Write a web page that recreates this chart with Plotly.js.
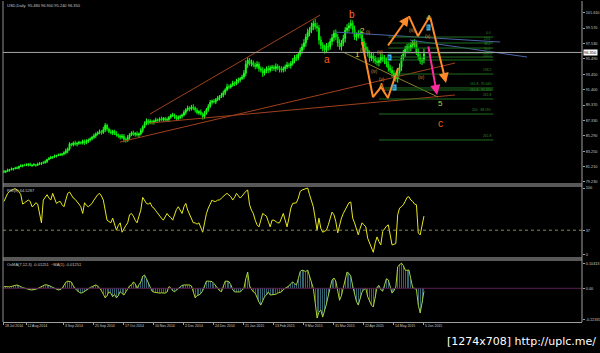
<!DOCTYPE html>
<html><head><meta charset="utf-8">
<script src="https://cdn.plot.ly/plotly-3.0.1.min.js"></script>
<style>html,body{margin:0;padding:0;background:#000;overflow:hidden}#chart{width:600px;height:353px}</style>
</head><body><div id="chart"></div>
<script>
// ---- data ----
const dateLabels = ["18 Jul 2014","12 Aug 2014","3 Sep 2014","25 Sep 2014","17 Oct 2014","10 Nov 2014","2 Dec 2014","24 Dec 2014","21 Jan 2015","13 Feb 2015","9 Mar 2015","31 Mar 2015","22 Apr 2015","14 May 2015","5 Jun 2015"];
const dateLabelBars = [0,12,32,48,64,80,96,112,128,144,160,176,192,208,224];
const firstOpen = 80.50;
const closes = [
80.55,80.62,80.75,80.82,80.90,80.95,81.00,81.05,81.25,81.32,81.40,81.38,81.45,81.55,81.38,81.42,
81.48,81.40,81.55,81.62,81.70,81.72,81.88,82.15,82.30,82.45,82.50,82.62,82.70,82.75,82.80,82.90,
83.05,83.30,83.55,84.25,84.10,84.35,84.20,84.30,84.45,84.35,84.60,84.40,84.55,84.75,84.90,85.10,
85.30,85.55,85.70,85.85,85.75,86.10,86.70,86.20,85.85,85.70,85.90,85.60,85.40,85.30,85.10,85.25,
84.85,84.70,85.10,85.45,85.70,85.50,85.60,85.40,85.55,86.00,86.50,86.90,87.30,87.05,87.20,87.10,
87.25,87.40,87.35,87.55,87.45,87.60,87.40,87.45,87.75,88.00,88.05,87.85,87.60,87.70,87.90,88.05,
88.40,88.75,89.00,88.85,89.10,89.00,88.70,88.35,88.50,88.20,87.85,88.30,88.80,89.20,89.75,89.90,
89.80,90.10,90.30,90.50,90.70,91.00,91.40,91.80,91.75,92.00,92.30,92.20,92.55,92.70,92.90,93.10,
93.60,94.80,95.30,94.90,95.00,94.70,94.50,94.80,94.20,94.00,93.60,93.90,94.20,94.00,94.30,94.40,
94.20,94.50,94.30,94.10,94.00,94.20,94.45,94.70,94.60,94.90,95.20,95.70,95.60,96.10,96.60,97.10,
97.60,98.40,99.00,99.30,99.80,100.20,99.80,99.60,98.00,97.30,96.90,96.70,97.20,97.10,97.80,98.30,
98.90,98.40,97.60,97.10,97.60,98.20,99.30,99.60,99.90,100.20,99.40,98.40,98.60,98.90,98.70,97.80,
97.10,96.70,96.20,95.60,95.90,95.50,95.20,95.00,95.30,95.70,95.60,95.20,94.80,94.30,94.00,93.60,
93.10,92.85,93.70,94.40,95.60,96.20,96.80,97.10,96.90,97.30,97.60,97.50,96.40,95.80,95.20,95.30,96.35];
// upper / lower wick lengths in tenths of a point
const upperWick = [
2,1,2,1,2,1,2,2,1,2,1,2,2,1,2,1, 2,1,2,2,1,2,2,1,2,2,1,2,1,2,2,1, 2,3,2,2,1,2,3,2,2,1,2,2,3,2,2,2,
3,2,2,3,2,4,3,2,2,3,2,2,3,2,2,3, 3,2,3,2,2,3,2,3,2,3,2,3,3,2,3,2, 2,3,2,2,3,2,2,3,2,2,3,2,2,3,2,2,
3,2,3,2,3,4,2,3,2,3,2,3,2,3,3,2, 3,2,3,2,3,3,2,4,3,2,3,2,3,3,2,3, 4,5,4,3,4,3,3,4,3,3,4,3,3,4,3,3,
3,4,3,3,4,3,3,4,3,3,4,3,4,3,4,4, 5,4,5,4,5,4,6,5,4,5,4,5,4,5,4,5, 4,5,4,5,4,5,4,5,4,5,4,5,4,4,5,4,
4,5,4,4,5,4,4,5,4,5,4,4,5,4,4,5, 4,5,4,5,4,5,4,4,5,4,4,5,4,5,4,4,5];
const lowerWick = [
1,2,1,2,1,2,1,1,2,1,2,1,1,2,1,2, 1,2,1,1,2,1,1,2,1,1,2,1,2,1,1,2, 2,2,3,2,2,2,2,3,2,2,2,3,2,2,2,2,
2,3,2,2,3,2,3,3,2,2,3,2,2,3,3,2, 4,3,2,3,2,2,3,2,3,2,3,2,2,3,2,3, 3,2,3,2,2,3,2,2,3,2,2,3,3,2,2,3,
2,3,2,3,2,3,3,2,3,2,4,3,2,3,2,3, 2,3,2,3,2,3,3,2,3,2,2,3,2,3,3,2, 3,4,5,3,4,3,4,3,4,3,5,3,3,4,3,4,
3,4,3,4,3,3,4,3,3,4,3,3,4,3,3,4, 4,5,4,5,4,5,4,5,6,5,4,5,4,5,4,5, 5,4,5,4,5,4,5,4,5,4,5,4,5,4,5,4,
5,4,4,5,4,5,4,4,5,4,5,4,4,5,4,5, 5,4,5,4,5,4,5,4,5,4,4,5,4,5,4,5,4];
const rsi = [
80,86,92,95,97,98,99,97,95,90,76,78,80,82,80,72,
74,78,76,60,48,82,86,90,85,82,92,85,77,79,80,75,
72,82,92,94,90,85,83,80,76,72,62,78,74,72,75,77,
82,86,90,92,88,82,65,52,50,48,55,45,37,44,48,34,
40,44,48,60,62,58,52,48,58,67,86,82,77,76,78,72,
70,66,62,58,55,52,58,62,58,56,52,60,68,72,66,62,
72,77,67,60,52,48,48,46,48,40,34,48,62,70,77,82,
80,80,82,82,85,88,90,92,90,87,82,86,92,88,85,88,
92,95,97,75,67,62,52,45,42,52,62,60,58,50,42,52,
52,50,48,48,55,62,52,42,55,70,77,78,78,85,95,97,
98,99,100,90,80,72,55,37,55,40,34,36,37,45,55,64,
60,50,33,45,55,62,68,74,78,79,55,48,38,30,40,48,
45,42,25,18,10,4,18,27,20,15,35,40,43,45,30,15,
16,17,60,70,72,75,80,86,87,82,80,76,75,33,30,45,58];
const osma = [
0.007,0.008,0.007,0.006,0.007,0.010,0.012,0.014,0.012,0.007,0.003,0.000,-0.002,-0.004,-0.006,-0.007,
-0.007,-0.004,-0.001,0.003,0.008,0.014,0.015,0.014,0.012,0.008,0.004,0.000,-0.004,-0.007,-0.005,0.000,
0.012,0.025,0.030,0.029,0.026,0.010,-0.002,-0.010,-0.015,-0.020,-0.018,-0.012,-0.006,-0.002,0.003,0.007,
0.010,0.014,0.010,0.002,-0.010,-0.025,-0.040,-0.030,-0.015,-0.020,-0.035,-0.025,-0.040,-0.030,-0.014,-0.022,
-0.028,-0.015,0.000,0.010,0.014,0.026,0.020,0.000,0.015,0.026,0.050,0.055,0.040,0.022,0.005,-0.012,
-0.016,-0.018,-0.020,-0.020,-0.019,-0.020,-0.020,-0.015,0.007,0.002,-0.010,-0.014,-0.008,-0.002,0.005,0.012,
0.014,0.014,0.014,0.014,0.010,-0.020,-0.040,-0.030,-0.028,-0.022,-0.010,0.010,0.030,0.030,0.028,0.028,
0.020,0.010,0.000,-0.010,-0.014,0.010,0.030,0.030,0.028,0.015,-0.005,-0.015,-0.015,-0.015,-0.015,-0.008,
0.000,0.040,0.068,0.010,-0.005,-0.015,-0.020,-0.040,-0.057,-0.070,-0.050,-0.035,-0.028,-0.015,-0.028,-0.028,
-0.028,-0.025,-0.020,-0.018,-0.015,-0.005,0.000,0.005,0.010,0.020,0.026,0.020,0.014,0.040,0.070,0.076,
0.072,0.070,0.076,0.050,0.025,0.000,-0.060,-0.124,-0.100,-0.090,-0.120,-0.095,-0.065,-0.030,0.005,0.035,
0.043,0.030,-0.010,-0.050,-0.030,0.000,0.040,0.068,0.062,0.050,0.010,-0.025,-0.055,-0.070,-0.040,-0.015,
-0.005,0.000,-0.035,-0.055,-0.070,-0.078,-0.040,0.005,0.012,-0.005,-0.012,0.010,0.040,0.035,0.005,-0.020,
-0.010,0.005,0.090,0.100,0.105,0.095,0.076,0.075,0.076,0.040,0.002,0.000,-0.005,-0.070,-0.103,-0.060,-0.0125];
const priceTicks = [101.61,99.57,97.53,95.49,93.45,91.40,89.37,87.33,85.29,83.25,81.21,79.23];
const priceTickText = ["101.610","99.570","97.530","95.490","93.450","91.400","89.370","87.330","85.290","83.250","81.210","79.230"];
const bidPrice = 96.35;
const rsiTicks = [100,37,0];
const rsiLevel = 37;
const osmaTicks = [0.10413,0,-0.132];
const osmaTickText = ["0.10413","0.00","-0.22331"];
// drawn objects, in (bar, price)
const trendX0=[61.9,77.9,77.9], trendY0=[84.48,87.0,88.19], trendX1=[240.6,240.6,168.6], trendY1=[94.95,90.71,101.3];
const blueX0=[176.6,216.6], blueY0=[99.05,97.99], blueX1=[264.6,279], blueY1=[97.73,95.74];
const olive = {x:[180.8,231.5], y:[96.40,90.44]};
const zigA = {x:[191.0,196.8,201.1,204.8,210.2], y:[97.73,90.44,91.77,90.31,94.29]};
const zigB = {x:[216.0,220.8,227.2], y:[101.17,98.52,101.17]};
const arrows = [ // [fromX,fromY,toX,toY]
 [204.3,97.07,216.0,101.17],[227.2,101.17,235.8,92.30]];
const pinkArrow = [226.2,97.33,231.0,90.71];
const fibLevels=[98.39,97.60,96.93,96.27,95.74,95.35,93.49,91.64,91.37,90.18,88.19,84.75];
const fibText=["0.0","23.6","38.2","50.0","61.8","100.0","138.2","161.8 - 91.640","161.8 - 91.370","261.8","200 - 88.190","261.8"];
const fibStart=[205,205,205,205,205,205,210,203,203,200,200,200];
const waveText=['a','b','c','1','2','4','5','A'];
const waveX=[172.3,185.6,232.6,188.3,191.0,226.2,232.6,201.1];
const waveY=[95.35,101.44,87.0,96.14,99.32,101.04,89.65,91.77];
const subText=['(i)','(ii)','(iii)','(iv)','(v)','(iii)','(iv)','(v)','(iv)'];
const subX=[194.2,191.0,200.6,197.4,201.5,217.5,219.0,226.2,222.5];
const subY=[99.05,96.67,96.40,93.76,92.7,99.2,97.6,98.4,93.0];
const cyanText=['a','b','b'];
const cyanX=[205.4,208.1,226.2];
const cyanY=[95.74,91.77,99.6];
</script>
<script>
const bars = closes.map((_,i)=>i);
const opens = [firstOpen].concat(closes.slice(0,-1));
const highs = closes.map((c,i)=>Math.max(c,opens[i])+upperWick[i]/10);
const lows = closes.map((c,i)=>Math.min(c,opens[i])-lowerWick[i]/10);

const T=3, B=31, H=353-T-B;
const py = Y => (353-B-Y)/H; // pixel y -> paper y
const FONT = "Liberation Sans, Arial, sans-serif";
const TXT = '#c8c8c8';

const traces = [];
traces.push({type:'candlestick', x:bars, open:opens, high:highs, low:lows, close:closes,
  increasing:{line:{color:'#22ff22',width:1}, fillcolor:'#00e000'},
  decreasing:{line:{color:'#00ee00',width:1}, fillcolor:'#00b000'},
  whiskerwidth:0, hoverinfo:'skip', xaxis:'x', yaxis:'y'});
for(let k=0;k<trendX0.length;k++) traces.push({type:'scatter',mode:'lines',x:[trendX0[k],trendX1[k]],y:[trendY0[k],trendY1[k]],line:{color:'#a0401c',width:1},xaxis:'x',yaxis:'y',hoverinfo:'skip'});
for(let k=0;k<blueX0.length;k++) traces.push({type:'scatter',mode:'lines',x:[blueX0[k],blueX1[k]],y:[blueY0[k],blueY1[k]],line:{color:'#4a64a8',width:1},xaxis:'x',yaxis:'y',hoverinfo:'skip'});
traces.push({type:'scatter',mode:'lines',x:olive.x,y:olive.y,line:{color:'#8a8030',width:1},xaxis:'x',yaxis:'y',hoverinfo:'skip'});
fibLevels.forEach((lv,k)=>traces.push({type:'scatter',mode:'lines',x:[fibStart[k],261],y:[lv,lv],line:{color:'#1f6e1f',width:1},xaxis:'x',yaxis:'y',hoverinfo:'skip'}));
traces.push({type:'scatter',mode:'lines',x:zigA.x,y:zigA.y,line:{color:'#ff8a2a',width:2},xaxis:'x',yaxis:'y',hoverinfo:'skip'});
traces.push({type:'scatter',mode:'lines',x:zigB.x,y:zigB.y,line:{color:'#ff8a2a',width:2},xaxis:'x',yaxis:'y',hoverinfo:'skip'});
// RSI
traces.push({type:'scatter',mode:'lines',x:bars,y:rsi,line:{color:'#e8e820',width:1},xaxis:'x',yaxis:'y2',hoverinfo:'skip'});
// OsMA
traces.push({type:'bar',x:bars,y:osma,marker:{color:'#35606e',line:{width:0}},width:0.55,xaxis:'x',yaxis:'y3',hoverinfo:'skip'});
traces.push({type:'scatter',mode:'lines',x:bars,y:osma,line:{color:'#a8d23a',width:1},xaxis:'x',yaxis:'y3',hoverinfo:'skip'});

const annotations = [];
const ann = (o)=>annotations.push(Object.assign({showarrow:false,font:{family:FONT,size:4,color:TXT}},o));
ann({xref:'paper',yref:'paper',x:0.004,y:py(5),xanchor:'left',yanchor:'middle',text:'USD,Daily  95.480 96.900 95.240 96.350'});
ann({xref:'paper',yref:'paper',x:0.004,y:py(190),xanchor:'left',yanchor:'middle',text:'RSI(8) 64.5287'});
ann({xref:'paper',yref:'paper',x:0.004,y:py(264),xanchor:'left',yanchor:'middle',text:'OsMA(7,12,3) -0.01251  ~MA(1) -0.01251'});
ann({xref:'paper',yref:'y',x:1,y:bidPrice,xanchor:'left',xshift:1,yanchor:'middle',text:'96.350',bgcolor:'#ffffff',borderpad:0,font:{family:FONT,size:4,color:'#000'}});
ann({xref:'paper',yref:'paper',x:(598-3)/579,y:py(341),xanchor:'right',yanchor:'middle',text:'[1274x708] http://uplc.me/',font:{family:'DejaVu Sans, sans-serif',size:11,color:'#ffffff'}});
const waveColors={a:'#ff5a1e',b:'#ff6a28',c:'#ff5a1e','1':'#e8d83a','2':'#e8d83a','4':'#b8d040','5':'#b8d040',A:'#ff8a2a'};
waveText.forEach((t,k)=>ann({x:waveX[k],y:waveY[k],xref:'x',yref:'y',text:t,font:{family:FONT,size:(t==='1'||t==='2'||t==='4'||t==='5')?8:10,color:waveColors[t]}}));
subText.forEach((t,k)=>ann({x:subX[k],y:subY[k],xref:'x',yref:'y',text:t,font:{family:FONT,size:4.5,color:'#c89040'}}));
cyanText.forEach((t,k)=>ann({x:cyanX[k],y:cyanY[k],xref:'x',yref:'y',text:t,bgcolor:'#40b8f0',borderpad:0,font:{family:FONT,size:4.5,color:'#003050'}}));
fibText.forEach((t,k)=>ann({x:261,y:fibLevels[k],xref:'x',yref:'y',xanchor:'right',yanchor:(k===8?'middle':'bottom'),text:t,font:{family:FONT,size:3.3,color:'#2e8a2e'}}));
arrows.forEach(a=>ann({x:a[2],y:a[3],ax:a[0],ay:a[1],xref:'x',yref:'y',axref:'x',ayref:'y',showarrow:true,arrowhead:2,arrowsize:1,arrowwidth:2,arrowcolor:'#ff8a2a',text:''}));
ann({x:pinkArrow[2],y:pinkArrow[3],ax:pinkArrow[0],ay:pinkArrow[1],xref:'x',yref:'y',axref:'x',ayref:'y',showarrow:true,arrowhead:2,arrowsize:1,arrowwidth:2,arrowcolor:'#ff2aa0',text:''});

const shapes = [
 {type:'line',xref:'paper',yref:'y',x0:0,x1:1,y0:bidPrice,y1:bidPrice,line:{color:'#a8a8a8',width:1}},
 {type:'line',xref:'paper',yref:'y2',x0:0,x1:1,y0:rsiLevel,y1:rsiLevel,line:{color:'#8a8a50',width:1,dash:'dot'}},
 {type:'line',xref:'paper',yref:'y3',x0:0,x1:1,y0:0,y1:0,line:{color:'#5a2050',width:1}},
 {type:'line',xref:'paper',yref:'paper',x0:0,x1:1,y0:py(184),y1:py(184),line:{color:'#b0b0b0',width:1}},
 {type:'line',xref:'paper',yref:'paper',x0:0,x1:1,y0:py(186),y1:py(186),line:{color:'#b0b0b0',width:1}},
 {type:'line',xref:'paper',yref:'paper',x0:0,x1:1,y0:py(258),y1:py(258),line:{color:'#b0b0b0',width:1}},
 {type:'line',xref:'paper',yref:'paper',x0:0,x1:1,y0:py(260),y1:py(260),line:{color:'#b0b0b0',width:1}},
 {type:'line',xref:'paper',yref:'paper',x0:0,x1:0,y0:0,y1:py(1),line:{color:'#909090',width:1}},
 {type:'line',xref:'paper',yref:'paper',x0:1,x1:1,y0:0,y1:py(1),line:{color:'#a0a0a0',width:1}}
];

const yBase = {showgrid:false,zeroline:false,side:'right',ticks:'outside',ticklen:2,tickcolor:'#a0a0a0',tickfont:{family:FONT,size:3.8,color:TXT},fixedrange:true};
const layout = {
  width:600,height:353,paper_bgcolor:'#000',plot_bgcolor:'#000',showlegend:false,
  margin:{l:3,r:18,t:T,b:B},bargap:0,
  xaxis:{range:[-0.5,308.3],showgrid:false,zeroline:false,anchor:'y3',rangeslider:{visible:false},
    tickvals:dateLabelBars,ticktext:dateLabels,tickangle:0,ticks:'outside',ticklen:2,tickcolor:'#a0a0a0',
    ticklabelposition:'outside right',tickfont:{family:FONT,size:3.5,color:TXT},showline:true,linecolor:'#a0a0a0',linewidth:1},
  yaxis:Object.assign({},yBase,{domain:[py(183),1],range:[79.05,102.9],tickvals:priceTicks,ticktext:priceTickText}),
  yaxis2:Object.assign({},yBase,{domain:[py(257),py(187)],range:[-3,101.5],tickvals:rsiTicks,ticktext:rsiTicks.map(String)}),
  yaxis3:Object.assign({},yBase,{domain:[0,py(261)],range:[-0.1404,0.1138],tickvals:osmaTicks,ticktext:osmaTickText}),
  shapes:shapes,annotations:annotations
};
Plotly.newPlot('chart',traces,layout,{staticPlot:true,displayModeBar:false});
</script>
</body></html>
